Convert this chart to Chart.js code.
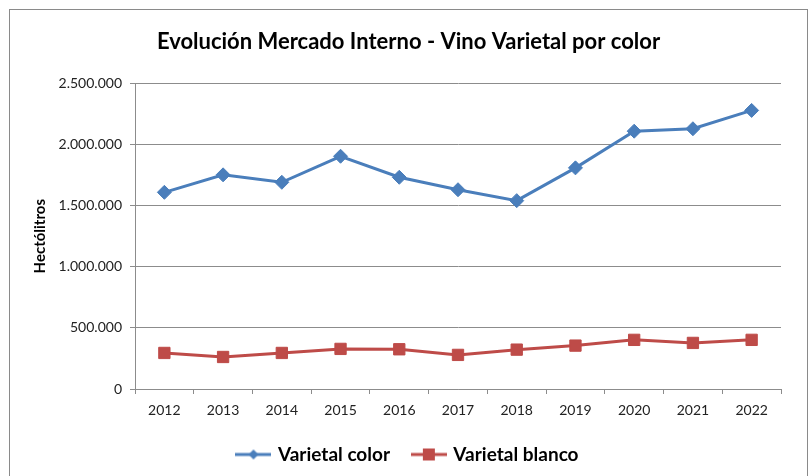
<!DOCTYPE html>
<html>
<head>
<meta charset="utf-8">
<title>Evolución Mercado Interno</title>
<script src="https://cdn.jsdelivr.net/npm/chart.js@4"></script>
<style>
    html, body { margin: 0; padding: 0; background: #fff; overflow: hidden; }
    #frame { position: absolute; left: 9px; top: 9px; width: 797px; height: 480px; border: 1px solid #8a8a8a; border-bottom: none; }
    #wrap { position: absolute; left: 0; top: 0; width: 797px; height: 466px; }
</style>
</head>
<body>
<div id="frame"><div id="wrap"><canvas id="chart"></canvas></div></div>
<script>
// data
const years = ["2012", "2013", "2014", "2015", "2016", "2017", "2018", "2019", "2020", "2021", "2022"];
const varietalColor = [1609000, 1752000, 1691000, 1904000, 1732000, 1630000, 1541000, 1809000, 2109000, 2129000, 2279000];
const varietalBlanco = [295000, 262000, 295000, 328000, 325000, 279000, 322000, 355000, 402000, 377000, 402000];

const blue = "#4a7ebb";
const red = "#be4b48";
const gridColor = "#8c8c8c";
const fontFamily = "Lato, 'Open Sans', sans-serif";

// thousands with dots, like 2.500.000
function formatNumber(v) {
    return String(Math.round(v)).replace(/\B(?=(\d{3})+(?!\d))/g, ".");
}

// legend icon: line with the marker on top
function legendIcon(color, style) {
    const c = document.createElement("canvas");
    c.width = 36;
    c.height = 16;
    const g = c.getContext("2d");
    g.strokeStyle = color;
    g.lineWidth = 3;
    g.beginPath();
    g.moveTo(0, 8);
    g.lineTo(36, 8);
    g.stroke();
    g.fillStyle = color;
    if (style === "diamond") {
        g.beginPath();
        g.moveTo(18, 3);
        g.lineTo(23, 8);
        g.lineTo(18, 13);
        g.lineTo(13, 8);
        g.closePath();
        g.fill();
    } else {
        g.fillRect(12, 2, 12, 12);
    }
    return c;
}

const icons = [legendIcon(blue, "diamond"), legendIcon(red, "square")];

new Chart(document.getElementById("chart"), {
    type: "line",
    data: {
        labels: years,
        datasets: [{
            label: "Varietal color",
            data: varietalColor,
            borderColor: blue,
            backgroundColor: blue,
            borderWidth: 3,
            pointStyle: "rectRot",
            pointRadius: 7,
            pointBorderWidth: 1,
            tension: 0
        }, {
            label: "Varietal blanco",
            data: varietalBlanco,
            borderColor: red,
            backgroundColor: red,
            borderWidth: 3,
            pointStyle: "rect",
            pointRadius: 8,
            pointBorderWidth: 1,
            tension: 0
        }]
    },
    options: {
        responsive: true,
        maintainAspectRatio: false,
        animation: false,
        layout: { padding: { left: 0, right: 0, top: 0, bottom: 2 } },
        plugins: {
            title: {
                display: true,
                text: "Evolución Mercado Interno - Vino Varietal por color",
                color: "#000",
                font: { family: fontFamily, size: 22, weight: "bold" },
                padding: { top: 19, bottom: 28 }
            },
            legend: {
                position: "bottom",
                labels: {
                    usePointStyle: true,
                    pointStyleWidth: 30,
                    padding: 10,
                    color: "#000",
                    font: { family: fontFamily, size: 19, weight: "bold" },
                    generateLabels: chart => chart.data.datasets.map((ds, i) => ({
                        text: ds.label + (i === 0 ? "   " : ""),
                        pointStyle: icons[i],
                        fillStyle: ds.borderColor,
                        strokeStyle: ds.borderColor,
                        lineWidth: 0,
                        fontColor: "#000",
                        datasetIndex: i,
                        hidden: false
                    }))
                }
            },
            tooltip: { enabled: false }
        },
        scales: {
            x: {
                offset: true,
                grid: { offset: true, drawOnChartArea: false, drawTicks: true, tickLength: 5, color: gridColor },
                border: { display: true, color: gridColor },
                ticks: { color: "#222", padding: 8, maxRotation: 0, font: { family: fontFamily, size: 14 } },
                afterFit: scale => { scale.height = 46; }
            },
            y: {
                min: 0,
                max: 2500000,
                grid: { color: gridColor, tickLength: 5 },
                border: { display: true, color: gridColor },
                ticks: {
                    stepSize: 500000,
                    padding: 8,
                    color: "#222",
                    font: { family: fontFamily, size: 14 },
                    callback: v => formatNumber(v)
                },
                title: {
                    display: true,
                    text: "Hectólitros",
                    color: "#000",
                    font: { family: fontFamily, size: 15, weight: "bold" },
                    padding: { top: 21, bottom: 0 }
                },
                afterFit: scale => { scale.width = 125; }
            },
            // empty axis on the right, only to keep the plot off the frame
            yRight: {
                position: "right",
                grid: { display: false },
                border: { display: false },
                ticks: { display: false },
                afterFit: scale => { scale.width = 26; }
            }
        }
    }
});
</script>
</body>
</html>
